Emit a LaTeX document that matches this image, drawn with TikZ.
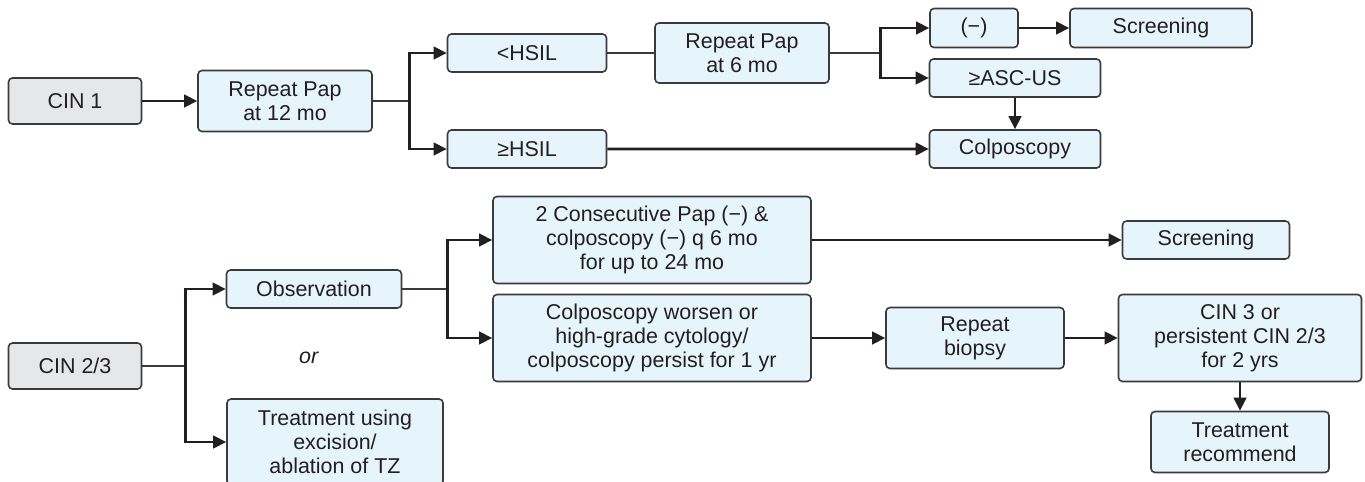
\documentclass[tikz,border=0pt]{standalone}
\usepackage{fontspec}
\setmainfont{Liberation Sans}
\usetikzlibrary{arrows.meta}
\definecolor{boxblue}{HTML}{E6F4FC}
\definecolor{boxgray}{HTML}{E6E7E8}
\definecolor{edgegray}{HTML}{3A3A3A}
\definecolor{inkblack}{HTML}{231F20}

\begin{document}
\begin{tikzpicture}[
  block/.style={rectangle, draw=edgegray, line width=0.9pt, rounded corners=0.08cm, fill=boxblue, align=center, inner sep=0pt, text=inkblack},
  cinblock/.style={block, fill=boxgray},
  flow/.style={->, line width=1.5pt, inkblack},
  link/.style={line width=1pt, edgegray},
  >={Triangle[length=0.26cm,width=0.25cm]},
  node distance=2cm,
  font=\fontsize{12.2}{13.6}\selectfont
]
\useasboundingbox (-1.5,2.02) rectangle (25.8,-7.62);

% CIN 1 branch
\node[cinblock, minimum width=2.66cm, minimum height=0.92cm] (cin1) {CIN 1};
\node[block, right of=cin1, node distance=4.2cm, minimum width=3.48cm, minimum height=1.22cm] (pap12) {Repeat Pap\\at 12 mo};
\node[block, right of=pap12, node distance=4.84cm, yshift=0.96cm, minimum width=3.18cm, minimum height=0.76cm] (lhsil) {<HSIL};
\node[block, below of=lhsil, node distance=1.92cm, minimum width=3.18cm, minimum height=0.76cm] (ghsil) {≥HSIL};
\node[block, right of=lhsil, node distance=4.3cm, minimum width=3.48cm, minimum height=1.2cm] (pap6) {Repeat Pap\\at 6 mo};
\node[block, right of=pap6, node distance=4.64cm, yshift=0.5cm, minimum width=1.76cm, minimum height=0.78cm] (neg) {(−)};
\node[block, right of=neg, node distance=3.74cm, minimum width=3.64cm, minimum height=0.78cm] (screen1) {Screening};
\node[block, right of=pap6, node distance=5.46cm, yshift=-0.5cm, minimum width=3.42cm, minimum height=0.76cm] (ascus) {≥ASC-US};
\node[block, below of=ascus, node distance=1.42cm, minimum width=3.42cm, minimum height=0.76cm] (colpo) {Colposcopy};

% CIN 2/3 branch
\node[cinblock, below of=cin1, node distance=5.3cm, minimum width=2.66cm, minimum height=0.92cm] (cin23) {CIN 2/3};
\node[block, right of=cin23, node distance=4.78cm, yshift=1.54cm, minimum width=3.5cm, minimum height=0.76cm] (obs) {Observation};
\node[below of=obs, node distance=1.38cm, xshift=-0.1cm, text=inkblack] (ortext) {\textit{or}};
\node[block, right of=cin23, node distance=5.2cm, yshift=-1.52cm, minimum width=4.32cm, minimum height=1.72cm] (treat) {Treatment using\\excision/\\ablation of TZ};
\node[block, right of=obs, node distance=6.76cm, yshift=0.98cm, minimum width=6.36cm, minimum height=1.74cm] (consec) {2 Consecutive Pap (−) \&\\colposcopy (−) q 6 mo\\for up to 24 mo};
\node[block, below of=consec, node distance=1.96cm, minimum width=6.36cm, minimum height=1.74cm] (worsen) {Colposcopy worsen or\\high-grade cytology/\\colposcopy persist for 1 yr};
\node[block, right of=consec, node distance=11.08cm, minimum width=3.34cm, minimum height=0.76cm] (screen2) {Screening};
\node[block, right of=worsen, node distance=6.46cm, minimum width=3.56cm, minimum height=1.22cm] (biopsy) {Repeat\\biopsy};
\node[block, right of=biopsy, node distance=5.3cm, minimum width=4.86cm, minimum height=1.74cm] (cin3) {CIN 3 or\\persistent CIN 2/3\\for 2 yrs};
\node[block, below of=cin3, node distance=2.08cm, minimum width=3.56cm, minimum height=1.22cm] (treatrec) {Treatment\\recommend};

\draw[flow] (cin1) -- (pap12);
\draw[link] (pap12.east) -- ++(0.74,0) coordinate (s1);
\draw[flow] (s1) |- (lhsil);
\draw[flow] (s1) |- (ghsil);
\draw[link] (lhsil) -- (pap6);
\draw[link] (pap6.east) -- ++(1.02,0) coordinate (s2);
\draw[flow] (s2) |- (neg);
\draw[flow] (s2) |- (ascus);
\draw[flow] (neg) -- (screen1);
\draw[flow] (ascus) -- (colpo);
\draw[flow] (ghsil) -- (colpo);

\draw[link] (cin23.east) -- ++(0.86,0) coordinate (s3);
\draw[flow] (s3) |- (obs);
\draw[flow] (s3) |- (treat);
\draw[link] (obs.east) -- ++(0.9,0) coordinate (s4);
\draw[flow] (s4) |- (consec);
\draw[flow] (s4) |- (worsen);
\draw[flow] (consec) -- (screen2);
\draw[flow] (worsen) -- (biopsy);
\draw[flow] (biopsy) -- (cin3);
\draw[flow] (cin3) -- (treatrec);
\end{tikzpicture}
\end{document}
